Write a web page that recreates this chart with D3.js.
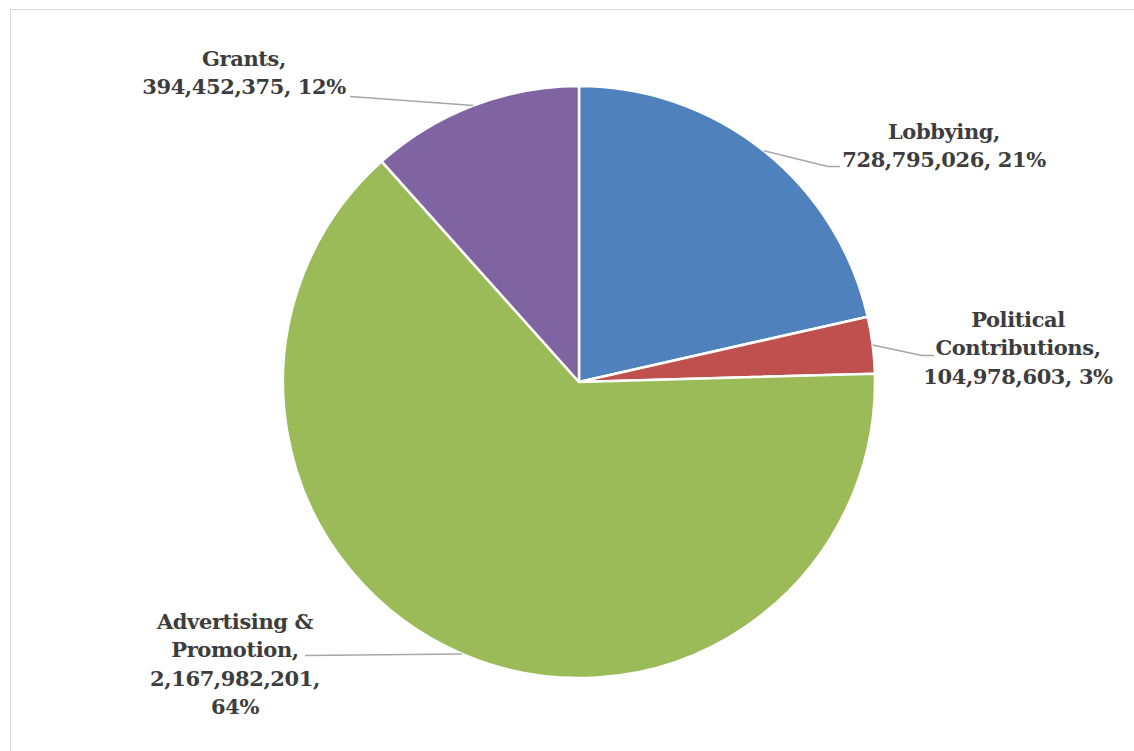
<!DOCTYPE html>
<html>
<head>
<meta charset="utf-8">
<script src="https://cdn.jsdelivr.net/npm/d3@7"></script>
<style>
  html, body { margin: 0; padding: 0; background: #fff; }
  svg { display: block; }
  .lbl { font-family: "DejaVu Serif", serif; font-weight: bold; font-size: 21px; letter-spacing: -0.4px; fill: #3d3d3d; }
</style>
</head>
<body>
<div id="chart"></div>
<script>
// pie data, clockwise from 12 o'clock
const categories = ["Lobbying", "Political Contributions", "Advertising & Promotion", "Grants"];
const values = [728795026, 104978603, 2167982201, 394452375];
const colors = ["#4F81BD", "#C0504D", "#9BBB59", "#8064A2"];
const labelLines = [
  ["Lobbying,", "728,795,026, 21%"],
  ["Political", "Contributions,", "104,978,603, 3%"],
  ["Advertising &", "Promotion,", "2,167,982,201,", "64%"],
  ["Grants,", "394,452,375, 12%"]
];

// where each label sits and how its leader line bends
const labelLayout = [
  { x: 944, y: 139, leader: [[828, 166.5], [840, 166.5]] },
  { x: 1018, y: 327, leader: [[922, 355.5], [934, 355.5]] },
  { x: 235, y: 629, leader: [[305, 655.5]] },
  { x: 244, y: 66, leader: [[350, 96.5]] }
];

const W = 1134, H = 751;
const cx = 579, cy = 382, r = 296;
const lineH = 28.3;

const svg = d3.select("#chart").append("svg")
  .attr("width", W).attr("height", H);

// chart area border
svg.append("rect")
  .attr("x", 10.5).attr("y", 9.5)
  .attr("width", W + 20).attr("height", H + 20)
  .attr("fill", "none").attr("stroke", "#d9d9d9").attr("stroke-width", 1);

const pie = d3.pie().sort(null).value(d => d);
const arcs = pie(values);
const arc = d3.arc().innerRadius(0).outerRadius(r);

const g = svg.append("g").attr("transform", `translate(${cx},${cy})`);

g.selectAll("path.slice")
  .data(arcs)
  .join("path")
  .attr("class", "slice")
  .attr("d", arc)
  .attr("fill", (d, i) => colors[i])
  .attr("stroke", "#fff")
  .attr("stroke-width", 2.5)
  .attr("stroke-linejoin", "round");

// leader lines start on the rim at the middle of each slice
const line = d3.line();
arcs.forEach((d, i) => {
  const mid = (d.startAngle + d.endAngle) / 2;
  const start = [cx + r * Math.sin(mid), cy - r * Math.cos(mid)];
  svg.append("path")
    .attr("d", line([start, ...labelLayout[i].leader]))
    .attr("fill", "none")
    .attr("stroke", "#a6a6a6")
    .attr("stroke-width", 1.5);
});

labelLines.forEach((lines, i) => {
  const lay = labelLayout[i];
  const t = svg.append("text")
    .attr("class", "lbl")
    .attr("text-anchor", "middle");
  lines.forEach((s, j) => {
    t.append("tspan")
      .attr("x", lay.x)
      .attr("y", lay.y + j * lineH)
      .text(s);
  });
});
</script>
</body>
</html>
